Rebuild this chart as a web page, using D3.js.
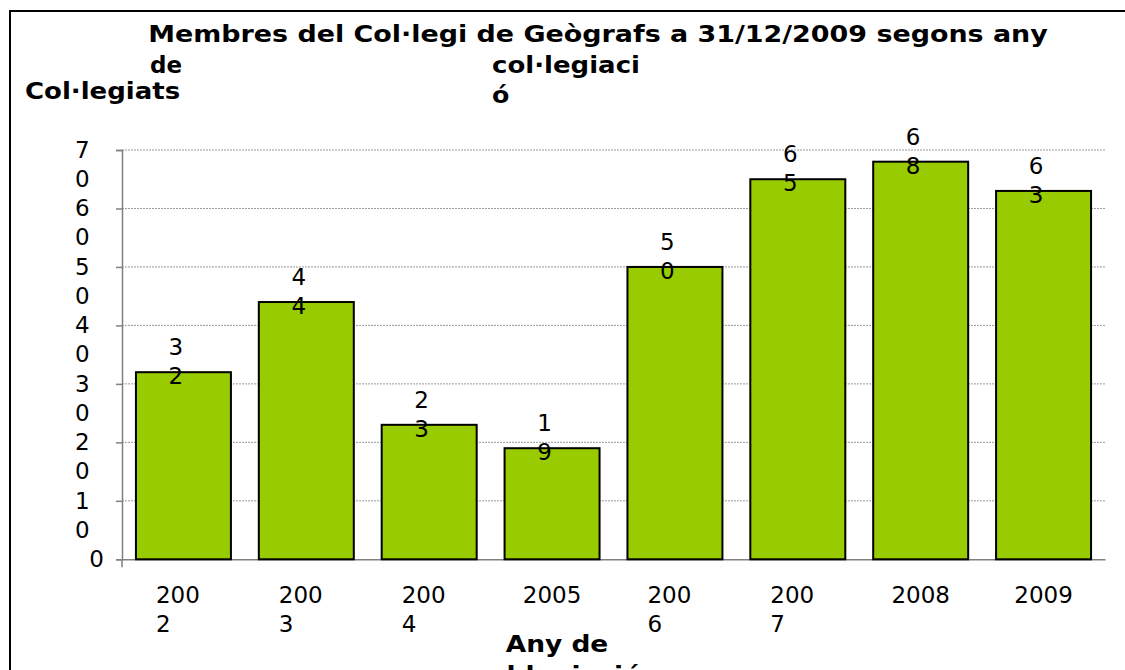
<!DOCTYPE html>
<html>
<head>
<meta charset="utf-8">
<script src="https://cdn.jsdelivr.net/npm/d3@7"></script>
<style>
  body { margin: 0; background: #fff; }
  text { font-family: "DejaVu Sans", Verdana, sans-serif; fill: #000; }
</style>
</head>
<body>
<div id="chart"></div>
<script>
var years = ["2002", "2003", "2004", "2005", "2006", "2007", "2008", "2009"];
var values = [32, 44, 23, 19, 50, 65, 68, 63];
// tick labels as they wrap in the original
var xTickLines = [["200", "2"], ["200", "3"], ["200", "4"], ["2005"], ["200", "6"], ["200", "7"], ["2008"], ["2009"]];
var yTicks = [0, 10, 20, 30, 40, 50, 60, 70];
var yTickLines = [["0"], ["1", "0"], ["2", "0"], ["3", "0"], ["4", "0"], ["5", "0"], ["6", "0"], ["7", "0"]];
var titleLines = [["Membres del Col·legi de Geògrafs a 31/12/2009 segons any"], ["de", "col·legiaci"], ["", "ó"]];
var yTitle = "Col·legiats";
var xTitleLines = ["Any de", "col·legiació"];

var width = 1125;
var height = 670;
var plot = { left: 122, right: 1105, top: 150, bottom: 559.3 };

var svg = d3.select("#chart").append("svg")
    .attr("width", width)
    .attr("height", height);

// frame
svg.append("path")
    .attr("d", "M10," + height + "V11H" + width)
    .attr("fill", "none")
    .attr("stroke", "#000")
    .attr("stroke-width", 2);

var xScale = d3.scaleBand()
    .domain(years)
    .range([plot.left, plot.right])
    .paddingInner(0.227)
    .paddingOuter(0.1135);

var yScale = d3.scaleLinear()
    .domain([0, 70])
    .range([plot.bottom, plot.top]);

// gridlines
svg.append("g")
    .selectAll("line")
    .data(yTicks.slice(1))
    .join("line")
    .attr("x1", plot.left)
    .attr("x2", plot.right)
    .attr("y1", function (d) { return yScale(d); })
    .attr("y2", function (d) { return yScale(d); })
    .attr("stroke", "#9a9a9a")
    .attr("stroke-dasharray", "2,1")
    .attr("stroke-width", 1);

// x axis (grey line under the bars)
var xAxis = d3.axisBottom(xScale).tickSize(0).tickFormat("");
var xg = svg.append("g")
    .attr("transform", "translate(0," + plot.bottom + ")")
    .call(xAxis);
xg.select(".domain").attr("stroke", "#808080").attr("stroke-width", 1.5);

// bars
svg.append("g")
    .selectAll("rect")
    .data(values)
    .join("rect")
    .attr("x", function (d, i) { return xScale(years[i]); })
    .attr("y", function (d) { return yScale(d); })
    .attr("width", xScale.bandwidth())
    .attr("height", function (d) { return yScale(0) - yScale(d); })
    .attr("fill", "#99cc00")
    .attr("stroke", "#000")
    .attr("stroke-width", 2);

// y axis
var yAxis = d3.axisLeft(yScale).tickValues(yTicks).tickSize(6).tickFormat("");
var yg = svg.append("g")
    .attr("transform", "translate(" + plot.left + ",0)")
    .call(yAxis);
yg.select(".domain").attr("stroke", "#808080").attr("stroke-width", 1.5);
yg.selectAll(".tick line").attr("stroke", "#808080").attr("stroke-width", 1.5);
yg.append("line")
    .attr("x1", 0).attr("x2", 0)
    .attr("y1", yScale(0)).attr("y2", yScale(0) + 8)
    .attr("stroke", "#808080")
    .attr("stroke-width", 1.5);

// y tick labels
var yLab = svg.append("g").style("font-size", "23px");
yTicks.forEach(function (t, i) {
    var lines = yTickLines[i];
    var lx = lines.length > 1 ? plot.left - 47 : plot.left - 18;
    var txt = yLab.append("text")
        .attr("text-anchor", lines.length > 1 ? "start" : "end")
        .attr("x", lx)
        .attr("y", yScale(t) + 8);
    lines.forEach(function (l, j) {
        txt.append("tspan")
            .attr("x", lx)
            .attr("dy", j === 0 ? 0 : 29)
            .text(l);
    });
});

// x tick labels
var xLab = svg.append("g").style("font-size", "23px");
years.forEach(function (y, i) {
    var lines = xTickLines[i];
    var cx = xScale(y) + xScale.bandwidth() / 2;
    var x0 = lines.length > 1 ? cx - 27.5 : cx;
    var txt = xLab.append("text")
        .attr("text-anchor", lines.length > 1 ? "start" : "middle")
        .attr("x", x0)
        .attr("y", plot.bottom + 44);
    lines.forEach(function (l, j) {
        txt.append("tspan")
            .attr("x", x0)
            .attr("dy", j === 0 ? 0 : 29)
            .text(l);
    });
});

// value labels (wrapped one digit per line)
var vLab = svg.append("g").style("font-size", "23px");
values.forEach(function (v, i) {
    var cx = xScale(years[i]) + xScale.bandwidth() / 2 - 7.5;
    var digits = String(v).split("");
    var txt = vLab.append("text")
        .attr("text-anchor", "middle")
        .attr("x", cx)
        .attr("y", yScale(v) - 17);
    digits.forEach(function (d, j) {
        txt.append("tspan")
            .attr("x", cx)
            .attr("dy", j === 0 ? 0 : 29)
            .text(d);
    });
});

// bold texts are wider in the original face, so stretch them a bit
function widen(sel, f) {
    sel.each(function () {
        var w = this.getComputedTextLength();
        d3.select(this).attr("textLength", w * f).attr("lengthAdjust", "spacingAndGlyphs");
    });
}

// title
var tg = svg.append("g").style("font-size", "23px").style("font-weight", "bold");
widen(tg.append("text")
    .attr("x", 598)
    .attr("y", 42)
    .attr("text-anchor", "middle")
    .text(titleLines[0][0]), 1.17);
widen(tg.append("text").attr("x", 150).attr("y", 73).text(titleLines[1][0]), 1.0);
widen(tg.append("text").attr("x", 492).attr("y", 73).text(titleLines[1][1]), 1.13);
widen(tg.append("text").attr("x", 492).attr("y", 103).text(titleLines[2][1]), 1.1);

// axis titles
widen(tg.append("text").attr("x", 25).attr("y", 99).text(yTitle), 1.13);
xTitleLines.forEach(function (l, j) {
    widen(tg.append("text")
        .attr("x", 557)
        .attr("y", 652 + j * 31)
        .attr("text-anchor", "middle")
        .text(l), 1.15);
});
</script>
</body>
</html>
